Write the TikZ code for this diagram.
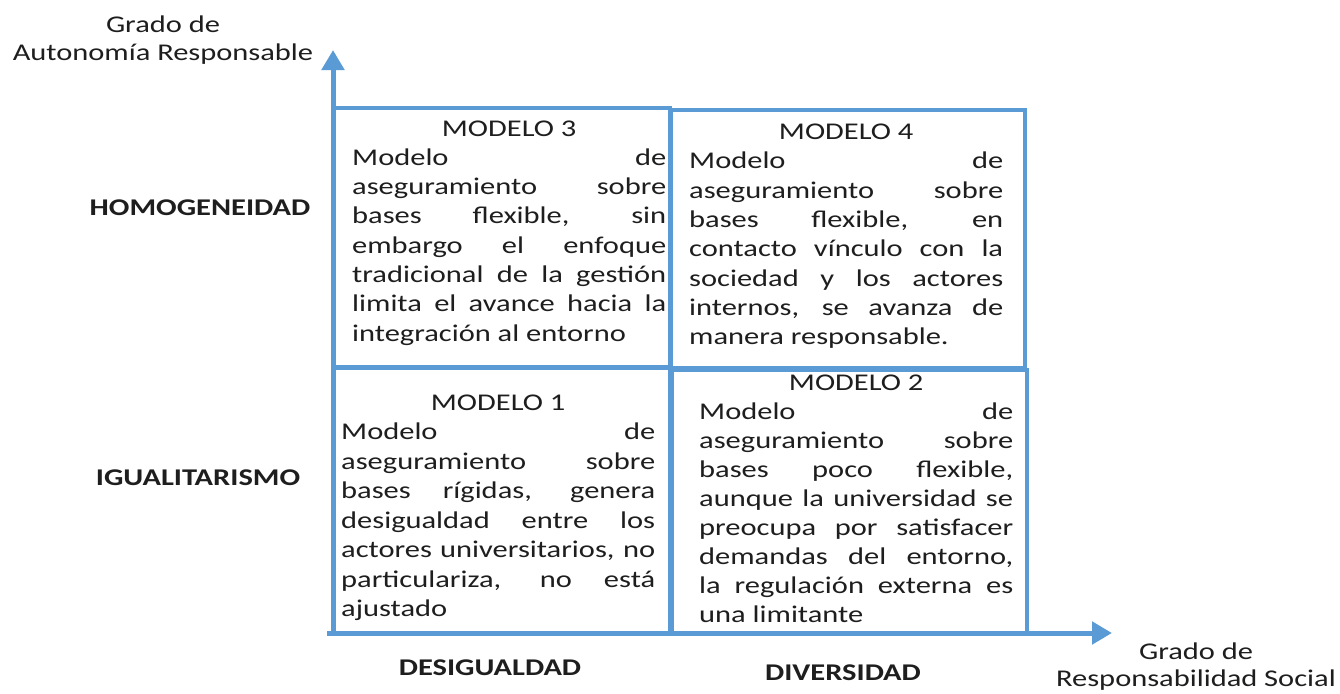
\documentclass[tikz,border=0pt]{standalone}
\usepackage{fontspec}
\setmainfont{Carlito}[FakeStretch=1.27]
\usetikzlibrary{arrows.meta}
\definecolor{axisblue}{HTML}{5B9BD5}
\definecolor{ink}{HTML}{1E1E1E}
\newcommand\jl[1]{\makebox[\linewidth][s]{#1}\par}
\newcommand\cnl[1]{\makebox[\linewidth][c]{#1}\par}
\newcommand\lastl[1]{\makebox[\linewidth][l]{#1}\par}
\newcommand\celltxt[2]{\parbox[t]{314pt}{\fontsize{24}{#1}\selectfont #2}}
\tikzset{
  cellbox/.style={draw=axisblue, line width=3.5pt},
  axisline/.style={draw=axisblue, line width=5pt, -{Triangle[width=22pt,length=20pt]}},
  celltext/.style={anchor=base west, inner sep=0pt, text=ink},
  lab/.style={anchor=base, inner sep=0pt, text=ink, font=\fontsize{24}{28}\selectfont},
  blab/.style={anchor=base, inner sep=0pt, text=ink, font=\fontsize{24}{28}\selectfont\bfseries},
}
\begin{document}
\begin{tikzpicture}[x=1pt,y=-1pt]
\useasboundingbox[fill=white] (0,0) rectangle (1340,693);
% cells
\draw[cellbox] (333,108) rectangle (670,367);
\draw[cellbox] (671,110) rectangle (1025,368);
\draw[cellbox] (333,368) rectangle (670,633);
\draw[cellbox] (672,370) rectangle (1027,633);
% axes
\coordinate (origin) at (333,633);
\coordinate (xstart) at (327,633);
\coordinate (ytip) at (333,50);
\coordinate (xtip) at (1112,633);
\draw[axisline] (origin) -- (ytip);
\draw[axisline] (xstart) -- (xtip);
% cell texts
\node[celltext] (m3) at (352,136) {\celltxt{29.3pt}{%
\cnl{MODELO 3}
\jl{Modelo de}
\jl{aseguramiento sobre}
\jl{bases flexible, sin}
\jl{embargo el enfoque}
\jl{tradicional de la gestión}
\jl{limita el avance hacia la}
\lastl{integración al entorno}}};
\node[celltext] (m4) at (689,139.5) {\celltxt{29.3pt}{%
\cnl{MODELO 4}
\jl{Modelo de}
\jl{aseguramiento sobre}
\jl{bases flexible, en}
\jl{contacto vínculo con la}
\jl{sociedad y los actores}
\jl{internos, se avanza de}
\lastl{manera responsable.}}};
\node[celltext] (m1) at (341,410) {\celltxt{29.5pt}{%
\cnl{MODELO 1}
\jl{Modelo de}
\jl{aseguramiento sobre}
\jl{bases rígidas, genera}
\jl{desigualdad entre los}
\jl{actores universitarios, no}
\jl{particulariza, no está}
\lastl{ajustado}}};
\node[celltext] (m2) at (699,390) {\celltxt{29pt}{%
\cnl{MODELO 2}
\jl{Modelo de}
\jl{aseguramiento sobre}
\jl{bases poco flexible,}
\jl{aunque la universidad se}
\jl{preocupa por satisfacer}
\jl{demandas del entorno,}
\jl{la regulación externa es}
\lastl{una limitante}}};
% outer labels
\node[lab] (yaxislab) at (163,33) {\parbox[t]{330pt}{\centering\fontsize{24}{28}\selectfont Grado de\\Autonomía Responsable}};
\node[lab] (xaxislab) at (1196,659) {\parbox[t]{300pt}{\centering\fontsize{24}{27}\selectfont Grado de\\Responsabilidad Social}};
\node[blab] (homog) at (200,215) {HOMOGENEIDAD};
\node[blab] (igual) at (198,485) {IGUALITARISMO};
\node[blab] (desig) at (490,675) {DESIGUALDAD};
\node[blab] (divers) at (843,680) {DIVERSIDAD};
\end{tikzpicture}
\end{document}
